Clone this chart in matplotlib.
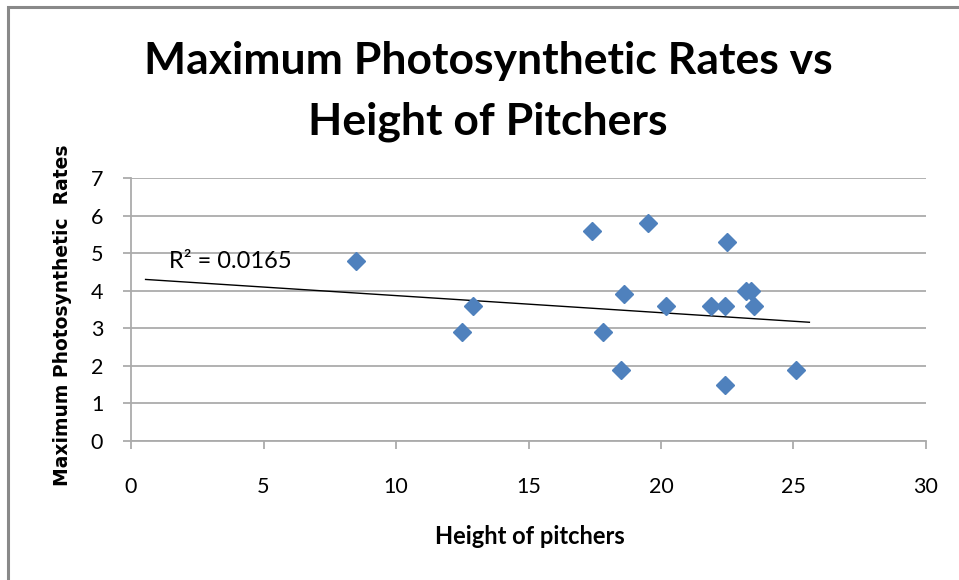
import matplotlib
matplotlib.use("Agg")
import matplotlib.pyplot as plt
from matplotlib.lines import Line2D
import numpy as np

# Pitcher height vs maximum photosynthetic rate
height = [8.5, 12.5, 12.9, 17.4, 17.8, 18.5, 18.6, 19.5, 20.2,
          21.9, 22.4, 22.4, 22.5, 23.2, 23.4, 23.5, 25.1]
max_rate = [4.8, 2.9, 3.6, 5.6, 2.9, 1.9, 3.9, 5.8, 3.6,
            3.6, 3.6, 1.5, 5.3, 4.0, 4.0, 3.6, 1.9]

# Linear trendline (as shown on the chart) and its R²
trend_intercept = 4.325
trend_slope = -0.0455
trend_span = [0.55, 25.6]
r_squared = 0.0165

x_ticks = [0, 5, 10, 15, 20, 25, 30]
y_ticks = [0, 1, 2, 3, 4, 5, 6, 7]

title_lines = ["Maximum Photosynthetic Rates vs", "Height of Pitchers"]
x_label = "Height of pitchers"
y_label = "Maximum Photosynthetic  Rates"

NARROW = ["Lato", "DejaVu Sans"]
GRID = "#ABABAB"
BLUE = "#4F81BD"

W, H = 959, 580
fig = plt.figure(figsize=(W / 100, H / 100), dpi=100)
fig.patch.set_facecolor("white")

ax = fig.add_axes([131 / W, 1 - 441 / H, (926 - 131) / W, (441 - 178) / H])
ax.set_xlim(0, 30)
ax.set_ylim(0, 7)
ax.set_xticks(x_ticks)
ax.set_yticks(y_ticks)
ax.set_xticklabels([str(v) for v in x_ticks])
ax.set_yticklabels([str(v) for v in y_ticks])

for side in ("top", "right"):
    ax.spines[side].set_visible(False)
for side in ("left", "bottom"):
    ax.spines[side].set_color(GRID)
    ax.spines[side].set_linewidth(1.3)

ax.yaxis.grid(True, color=GRID, linewidth=1.3)
ax.set_axisbelow(True)
ax.tick_params(axis="both", direction="out", length=6, width=1.3, color=GRID,
               labelsize=15.5, labelcolor="#000000")
ax.tick_params(axis="x", pad=20)
ax.tick_params(axis="y", pad=14)
for lbl in ax.get_xticklabels() + ax.get_yticklabels():
    lbl.set_family(NARROW)

# trendline
tx = np.array(trend_span)
ax.plot(tx, trend_intercept + trend_slope * tx, color="black", linewidth=1.0,
        zorder=3, clip_on=False)

# data points
ax.plot(height, max_rate, linestyle="none", marker="D", markersize=9.5,
        markerfacecolor=BLUE, markeredgecolor=BLUE, zorder=4, clip_on=False)

ax.text(1.45, 4.79, f"R² = {r_squared:.4f}", family=NARROW, fontsize=17,
        ha="left", va="center", color="black")

# titles and axis labels
fig.text(488 / W, 1 - 74 / H, title_lines[0], family=NARROW, fontweight="bold",
         fontsize=32, ha="center", va="baseline")
fig.text(488 / W, 1 - 134 / H, title_lines[1], family=NARROW, fontweight="bold",
         fontsize=32, ha="center", va="baseline")
fig.text(530 / W, 1 - 537 / H, x_label, family=NARROW, fontweight="bold",
         fontsize=17, ha="center", va="center")
fig.text(62 / W, 1 - 315 / H, y_label, family="DejaVu Sans", fontweight="bold",
         fontsize=13.5, rotation=90, ha="center", va="center")

# chart frame (left and top edges visible)
frame_color = "#898989"
fig.add_artist(Line2D([8 / W, 8 / W, 1.0], [0.0, 1 - 7 / H, 1 - 7 / H],
                      transform=fig.transFigure, color=frame_color, linewidth=2.2,
                      solid_joinstyle="miter"))

fig.savefig("out.png", dpi=100, facecolor="white")
